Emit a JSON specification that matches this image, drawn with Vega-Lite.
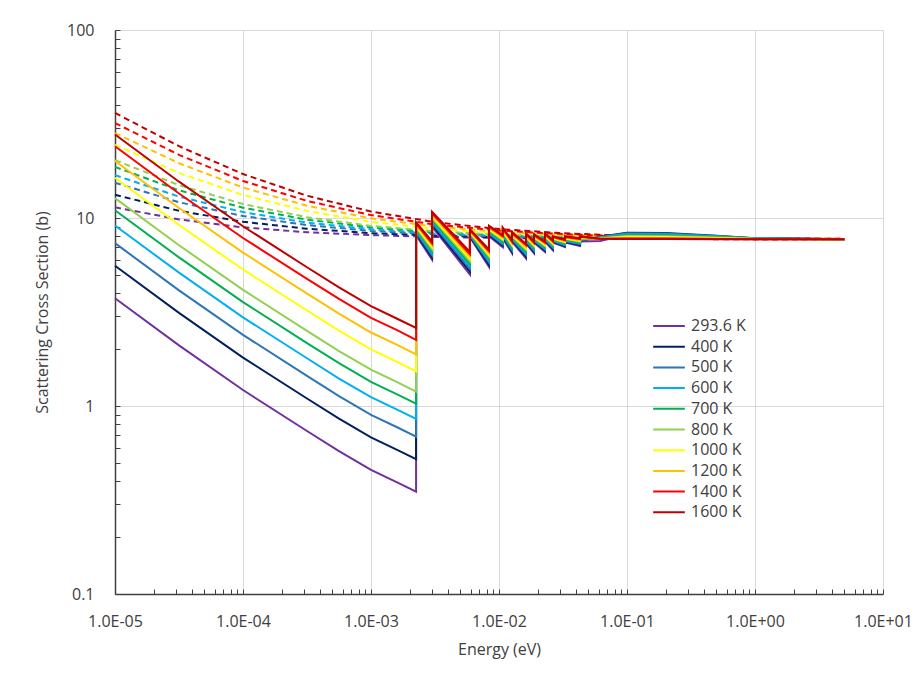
{
  "$schema": "https://vega.github.io/schema/vega-lite/v6.json",
  "width": 768,
  "height": 564,
  "autosize": {"type": "none"},
  "padding": {"left": 115, "top": 30, "right": 37, "bottom": 81},
  "background": "white",
  "config": {
    "view": {"stroke": null},
    "font": "Open Sans",
    "axis": {
      "labelFont": "Open Sans",
      "titleFont": "Open Sans",
      "labelColor": "#404040",
      "titleColor": "#404040",
      "titleFontWeight": "normal",
      "domainColor": "#404040",
      "domainWidth": 1.5,
      "tickColor": "#404040",
      "tickWidth": 1,
      "gridColor": "#D9D9D9",
      "gridWidth": 1
    }
  },
  "resolve": {"legend": {"color": "independent"}},
  "datasets": {
    "solid": [
      {"i": 0, "E": 1e-5, "t0293": 3.74, "t0400": 5.57, "t0500": 7.35, "t0600": 9.12, "t0700": 10.99, "t0800": 12.76, "t1000": 16.37, "t1200": 20.1, "t1400": 24.1, "t1600": 27.8},
      {"i": 1, "E": 3.162e-5, "t0293": 2.10, "t0400": 3.13, "t0500": 4.12, "t0600": 5.12, "t0700": 6.17, "t0800": 7.16, "t1000": 9.18, "t1200": 11.3, "t1400": 13.5, "t1600": 15.6},
      {"i": 2, "E": 1e-4, "t0293": 1.216, "t0400": 1.81, "t0500": 2.39, "t0600": 2.96, "t0700": 3.57, "t0800": 4.15, "t1000": 5.32, "t1200": 6.55, "t1400": 7.83, "t1600": 9.04},
      {"i": 3, "E": 3.162e-4, "t0293": 0.736, "t0400": 1.096, "t0500": 1.445, "t0600": 1.795, "t0700": 2.16, "t0800": 2.51, "t1000": 3.22, "t1200": 3.96, "t1400": 4.74, "t1600": 5.47},
      {"i": 3.5, "E": 5.623e-4, "t0293": 0.575, "t0400": 0.857, "t0500": 1.13, "t0600": 1.40, "t0700": 1.69, "t0800": 1.96, "t1000": 2.52, "t1200": 3.10, "t1400": 3.71, "t1600": 4.28},
      {"i": 4, "E": 1e-3, "t0293": 0.457, "t0400": 0.681, "t0500": 0.897, "t0600": 1.114, "t0700": 1.343, "t0800": 1.56, "t1000": 2.0, "t1200": 2.46, "t1400": 2.94, "t1600": 3.40},
      {"i": 4.5, "E": 1.585e-3, "t0293": 0.394, "t0400": 0.586, "t0500": 0.773, "t0600": 0.959, "t0700": 1.156, "t0800": 1.343, "t1000": 1.72, "t1200": 2.12, "t1400": 2.54, "t1600": 2.92},
      {"i": 5, "E": 0.00225, "t0293": 0.350, "t0400": 0.521, "t0500": 0.687, "t0600": 0.853, "t0700": 1.028, "t0800": 1.194, "t1000": 1.53, "t1200": 1.88, "t1400": 2.25, "t1600": 2.60},
      {"i": 6, "E": 0.00225, "t0293": 8.1, "t0400": 8.26, "t0500": 8.41, "t0600": 8.57, "t0700": 8.72, "t0800": 8.88, "t1000": 9.03, "t1200": 9.19, "t1400": 9.34, "t1600": 9.5},
      {"i": 7, "E": 0.003, "t0293": 6.0, "t0400": 6.17, "t0500": 6.33, "t0600": 6.5, "t0700": 6.67, "t0800": 6.83, "t1000": 7.0, "t1200": 7.17, "t1400": 7.33, "t1600": 7.5},
      {"i": 8, "E": 0.003, "t0293": 9.0, "t0400": 9.2, "t0500": 9.4, "t0600": 9.6, "t0700": 9.8, "t0800": 10.0, "t1000": 10.2, "t1200": 10.4, "t1400": 10.6, "t1600": 10.8},
      {"i": 9, "E": 0.00593, "t0293": 5.0, "t0400": 5.18, "t0500": 5.36, "t0600": 5.53, "t0700": 5.71, "t0800": 5.89, "t1000": 6.07, "t1200": 6.24, "t1400": 6.42, "t1600": 6.6},
      {"i": 10, "E": 0.00593, "t0293": 7.9, "t0400": 7.99, "t0500": 8.08, "t0600": 8.17, "t0700": 8.26, "t0800": 8.34, "t1000": 8.43, "t1200": 8.52, "t1400": 8.61, "t1600": 8.7},
      {"i": 11, "E": 0.00835, "t0293": 5.5, "t0400": 5.64, "t0500": 5.79, "t0600": 5.93, "t0700": 6.08, "t0800": 6.22, "t1000": 6.37, "t1200": 6.51, "t1400": 6.66, "t1600": 6.8},
      {"i": 12, "E": 0.00835, "t0293": 8.0, "t0400": 8.12, "t0500": 8.24, "t0600": 8.37, "t0700": 8.49, "t0800": 8.61, "t1000": 8.73, "t1200": 8.86, "t1400": 8.98, "t1600": 9.1},
      {"i": 13, "E": 0.0107, "t0293": 7.0, "t0400": 7.12, "t0500": 7.24, "t0600": 7.37, "t0700": 7.49, "t0800": 7.61, "t1000": 7.73, "t1200": 7.86, "t1400": 7.98, "t1600": 8.1},
      {"i": 14, "E": 0.0107, "t0293": 7.8, "t0400": 7.92, "t0500": 8.04, "t0600": 8.17, "t0700": 8.29, "t0800": 8.41, "t1000": 8.53, "t1200": 8.66, "t1400": 8.78, "t1600": 8.9},
      {"i": 15, "E": 0.01264, "t0293": 6.5, "t0400": 6.62, "t0500": 6.74, "t0600": 6.87, "t0700": 6.99, "t0800": 7.11, "t1000": 7.23, "t1200": 7.36, "t1400": 7.48, "t1600": 7.6},
      {"i": 16, "E": 0.01264, "t0293": 7.5, "t0400": 7.6, "t0500": 7.7, "t0600": 7.8, "t0700": 7.9, "t0800": 8.0, "t1000": 8.1, "t1200": 8.2, "t1400": 8.3, "t1600": 8.4},
      {"i": 17, "E": 0.01626, "t0293": 6.1, "t0400": 6.23, "t0500": 6.37, "t0600": 6.5, "t0700": 6.63, "t0800": 6.77, "t1000": 6.9, "t1200": 7.03, "t1400": 7.17, "t1600": 7.3},
      {"i": 18, "E": 0.01626, "t0293": 7.3, "t0400": 7.41, "t0500": 7.52, "t0600": 7.63, "t0700": 7.74, "t0800": 7.86, "t1000": 7.97, "t1200": 8.08, "t1400": 8.19, "t1600": 8.3},
      {"i": 19, "E": 0.01876, "t0293": 6.5, "t0400": 6.61, "t0500": 6.72, "t0600": 6.83, "t0700": 6.94, "t0800": 7.06, "t1000": 7.17, "t1200": 7.28, "t1400": 7.39, "t1600": 7.5},
      {"i": 20, "E": 0.01876, "t0293": 7.4, "t0400": 7.49, "t0500": 7.58, "t0600": 7.67, "t0700": 7.76, "t0800": 7.84, "t1000": 7.93, "t1200": 8.02, "t1400": 8.11, "t1600": 8.2},
      {"i": 21, "E": 0.02286, "t0293": 6.6, "t0400": 6.7, "t0500": 6.8, "t0600": 6.9, "t0700": 7.0, "t0800": 7.1, "t1000": 7.2, "t1200": 7.3, "t1400": 7.4, "t1600": 7.5},
      {"i": 22, "E": 0.02286, "t0293": 7.5, "t0400": 7.59, "t0500": 7.68, "t0600": 7.77, "t0700": 7.86, "t0800": 7.94, "t1000": 8.03, "t1200": 8.12, "t1400": 8.21, "t1600": 8.3},
      {"i": 23, "E": 0.0264, "t0293": 6.75, "t0400": 6.84, "t0500": 6.94, "t0600": 7.03, "t0700": 7.13, "t0800": 7.22, "t1000": 7.32, "t1200": 7.41, "t1400": 7.51, "t1600": 7.6},
      {"i": 24, "E": 0.0264, "t0293": 7.4, "t0400": 7.47, "t0500": 7.53, "t0600": 7.6, "t0700": 7.67, "t0800": 7.73, "t1000": 7.8, "t1200": 7.87, "t1400": 7.93, "t1600": 8.0},
      {"i": 25, "E": 0.0328, "t0293": 7.0, "t0400": 7.08, "t0500": 7.16, "t0600": 7.23, "t0700": 7.31, "t0800": 7.39, "t1000": 7.47, "t1200": 7.54, "t1400": 7.62, "t1600": 7.7},
      {"i": 26, "E": 0.0328, "t0293": 7.4, "t0400": 7.47, "t0500": 7.53, "t0600": 7.6, "t0700": 7.67, "t0800": 7.73, "t1000": 7.8, "t1200": 7.87, "t1400": 7.93, "t1600": 8.0},
      {"i": 27, "E": 0.043, "t0293": 7.1, "t0400": 7.18, "t0500": 7.26, "t0600": 7.33, "t0700": 7.41, "t0800": 7.49, "t1000": 7.57, "t1200": 7.64, "t1400": 7.72, "t1600": 7.8},
      {"i": 28, "E": 0.043, "t0293": 7.5, "t0400": 7.56, "t0500": 7.61, "t0600": 7.67, "t0700": 7.72, "t0800": 7.78, "t1000": 7.83, "t1200": 7.89, "t1400": 7.94, "t1600": 8.0},
      {"i": 29, "E": 0.0615, "t0293": 7.55, "t0400": 7.95, "t0500": 7.92, "t0600": 7.87, "t0700": 7.83, "t0800": 7.8, "t1000": 7.78, "t1200": 7.77, "t1400": 7.76, "t1600": 7.75},
      {"i": 30, "E": 0.1, "t0293": 8.15, "t0400": 8.35, "t0500": 8.3, "t0600": 8.2, "t0700": 8.1, "t0800": 8.02, "t1000": 7.94, "t1200": 7.85, "t1400": 7.78, "t1600": 7.74},
      {"i": 31, "E": 0.2, "t0293": 8.15, "t0400": 8.32, "t0500": 8.27, "t0600": 8.18, "t0700": 8.08, "t0800": 8.0, "t1000": 7.92, "t1200": 7.83, "t1400": 7.77, "t1600": 7.73},
      {"i": 32, "E": 0.5, "t0293": 7.95, "t0400": 8.05, "t0500": 8.02, "t0600": 7.97, "t0700": 7.92, "t0800": 7.87, "t1000": 7.82, "t1200": 7.77, "t1400": 7.74, "t1600": 7.72},
      {"i": 33, "E": 1, "t0293": 7.78, "t0400": 7.8, "t0500": 7.8, "t0600": 7.78, "t0700": 7.76, "t0800": 7.75, "t1000": 7.74, "t1200": 7.73, "t1400": 7.72, "t1600": 7.71},
      {"i": 34, "E": 5, "t0293": 7.7, "t0400": 7.7, "t0500": 7.7, "t0600": 7.7, "t0700": 7.7, "t0800": 7.7, "t1000": 7.7, "t1200": 7.7, "t1400": 7.7, "t1600": 7.7}
    ],
    "dashed": [
      {"i": 0, "E": 1e-5, "t0293": 11.4, "t0400": 13.3, "t0500": 15.4, "t0600": 16.9, "t0700": 18.7, "t0800": 20.3, "t1000": 24.5, "t1200": 28.3, "t1400": 32.0, "t1600": 36.2},
      {"i": 1, "E": 3.162e-5, "t0293": 9.83, "t0400": 10.92, "t0500": 12.13, "t0600": 12.99, "t0700": 14.03, "t0800": 14.95, "t1000": 17.36, "t1200": 19.55, "t1400": 21.67, "t1600": 24.1},
      {"i": 2, "E": 1e-4, "t0293": 8.92, "t0400": 9.55, "t0500": 10.25, "t0600": 10.75, "t0700": 11.34, "t0800": 11.87, "t1000": 13.26, "t1200": 14.52, "t1400": 15.74, "t1600": 17.13},
      {"i": 3, "E": 3.162e-4, "t0293": 8.4, "t0400": 8.77, "t0500": 9.17, "t0600": 9.45, "t0700": 9.8, "t0800": 10.1, "t1000": 10.9, "t1200": 11.62, "t1400": 12.33, "t1600": 13.13},
      {"i": 4, "E": 1e-3, "t0293": 8.11, "t0400": 8.31, "t0500": 8.54, "t0600": 8.71, "t0700": 8.91, "t0800": 9.08, "t1000": 9.54, "t1200": 9.96, "t1400": 10.36, "t1600": 10.82},
      {"i": 5, "E": 3.162e-3, "t0293": 7.93, "t0400": 8.05, "t0500": 8.19, "t0600": 8.28, "t0700": 8.39, "t0800": 8.5, "t1000": 8.76, "t1200": 9.0, "t1400": 9.23, "t1600": 9.5},
      {"i": 6, "E": 1e-2, "t0293": 7.83, "t0400": 7.9, "t0500": 7.98, "t0600": 8.03, "t0700": 8.1, "t0800": 8.16, "t1000": 8.31, "t1200": 8.45, "t1400": 8.58, "t1600": 8.73},
      {"i": 7, "E": 3.162e-2, "t0293": 7.77, "t0400": 7.82, "t0500": 7.86, "t0600": 7.89, "t0700": 7.93, "t0800": 7.96, "t1000": 8.05, "t1200": 8.13, "t1400": 8.21, "t1600": 8.3},
      {"i": 8, "E": 0.1, "t0293": 7.74, "t0400": 7.77, "t0500": 7.79, "t0600": 7.81, "t0700": 7.83, "t0800": 7.85, "t1000": 7.9, "t1200": 7.95, "t1400": 7.99, "t1600": 8.04},
      {"i": 9, "E": 1, "t0293": 7.71, "t0400": 7.72, "t0500": 7.73, "t0600": 7.74, "t0700": 7.74, "t0800": 7.75, "t1000": 7.77, "t1200": 7.78, "t1400": 7.79, "t1600": 7.81},
      {"i": 10, "E": 5, "t0293": 7.7, "t0400": 7.7, "t0500": 7.71, "t0600": 7.71, "t0700": 7.72, "t0800": 7.72, "t1000": 7.73, "t1200": 7.74, "t1400": 7.74, "t1600": 7.75}
    ]
  },
  "encoding": {
    "x": {
      "field": "E",
      "type": "quantitative",
      "scale": {"type": "log", "domain": [1e-5, 10], "nice": false},
      "axis": {
        "values": [1e-5, 2e-5, 3e-5, 4e-5, 5e-5, 6e-5, 7e-5, 8e-5, 9e-5, 1e-4, 2e-4, 3e-4, 4e-4, 5e-4, 6e-4, 7e-4, 8e-4, 9e-4, 1e-3, 2e-3, 3e-3, 4e-3, 5e-3, 6e-3, 7e-3, 8e-3, 9e-3, 1e-2, 2e-2, 3e-2, 4e-2, 5e-2, 6e-2, 7e-2, 8e-2, 9e-2, 0.1, 0.2, 0.3, 0.4, 0.5, 0.6, 0.7, 0.8, 0.9, 1, 2, 3, 4, 5, 6, 7, 8, 9, 10],
        "title": "Energy (eV)",
        "titleFontSize": 16,
        "titlePadding": 12,
        "labelFontSize": 16,
        "labelPadding": 24,
        "labelOverlap": false,
        "labelFlush": false,
        "labelExpr": "abs(log(datum.value)/LN10 - round(log(datum.value)/LN10)) < 0.001 ? '1.0E' + (round(log(datum.value)/LN10) < 0 ? '-' : '+') + (abs(round(log(datum.value)/LN10)) < 10 ? '0' : '') + abs(round(log(datum.value)/LN10)) : ''",
        "grid": true,
        "gridOpacity": {"condition": {"test": "abs(log(datum.value)/LN10 - round(log(datum.value)/LN10)) < 0.001", "value": 1}, "value": 0},
        "tickSize": -5
      }
    },
    "y": {
      "field": "v",
      "type": "quantitative",
      "scale": {"type": "log", "domain": [0.1, 100], "nice": false},
      "axis": {
        "values": [0.1, 0.2, 0.3, 0.4, 0.5, 0.6, 0.7, 0.8, 0.9, 1, 2, 3, 4, 5, 6, 7, 8, 9, 10, 20, 30, 40, 50, 60, 70, 80, 90, 100],
        "title": "Scattering Cross Section (b)",
        "titleFontSize": 16,
        "titlePadding": 16,
        "labelFontSize": 16,
        "labelPadding": 26,
        "labelOverlap": false,
        "labelFlush": false,
        "labelExpr": "abs(log(datum.value)/LN10 - round(log(datum.value)/LN10)) < 0.001 ? '' + datum.value : ''",
        "grid": true,
        "gridOpacity": {"condition": {"test": "abs(log(datum.value)/LN10 - round(log(datum.value)/LN10)) < 0.001", "value": 1}, "value": 0},
        "tickSize": -5
      }
    },
    "order": {"field": "i", "type": "quantitative"}
  },
  "layer": [
    {
      "data": {"name": "dashed"},
      "transform": [{"fold": ["t0293", "t0400", "t0500", "t0600", "t0700", "t0800", "t1000", "t1200", "t1400", "t1600"], "as": ["T", "v"]}],
      "mark": {"type": "line", "strokeWidth": 2, "strokeDash": [6, 4]},
      "encoding": {
        "color": {
          "field": "T",
          "type": "nominal",
          "scale": {"domain": ["t0293", "t0400", "t0500", "t0600", "t0700", "t0800", "t1000", "t1200", "t1400", "t1600"], "range": ["#7030A0", "#002060", "#2E75B6", "#00B0F0", "#00B050", "#92D050", "#FFFF00", "#FFC000", "#FF0000", "#C00000"]},
          "legend": null
        }
      }
    },
    {
      "data": {"name": "solid"},
      "transform": [{"fold": ["t0293", "t0400", "t0500", "t0600", "t0700", "t0800", "t1000", "t1200", "t1400", "t1600"], "as": ["T", "v"]}],
      "mark": {"type": "line", "strokeWidth": 2},
      "encoding": {
        "color": {
          "field": "T",
          "type": "nominal",
          "scale": {"domain": ["t0293", "t0400", "t0500", "t0600", "t0700", "t0800", "t1000", "t1200", "t1400", "t1600"], "range": ["#7030A0", "#002060", "#2E75B6", "#00B0F0", "#00B050", "#92D050", "#FFFF00", "#FFC000", "#FF0000", "#C00000"]},
          "legend": {
            "orient": "none",
            "legendX": 537,
            "legendY": 286,
            "title": null,
            "padding": 0,
            "symbolType": "stroke",
            "symbolSize": 1000,
            "symbolStrokeWidth": 2,
            "labelFontSize": 16,
            "labelColor": "#404040",
            "labelOffset": 5,
            "clipHeight": 20,
            "rowPadding": 0.7,
            "labelExpr": "datum.label == 't0293' ? '293.6 K' : toNumber(substring(datum.label, 1)) + ' K'"
          }
        }
      }
    }
  ]
}
